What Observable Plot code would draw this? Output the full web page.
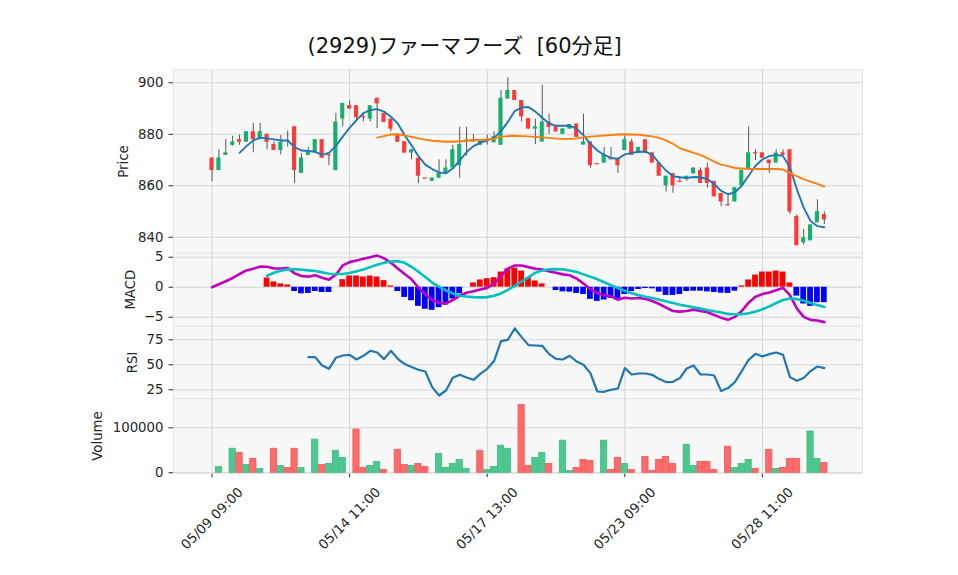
<!DOCTYPE html>
<html><head><meta charset="utf-8">
<script src="https://cdn.jsdelivr.net/npm/d3@7"></script>
<script src="https://cdn.jsdelivr.net/npm/@observablehq/plot@0.6"></script>
<style>
body{margin:0;background:#fff;}
#chart{position:relative;width:958px;height:575px;overflow:hidden;background:#fff;}
#chart svg{position:absolute;left:0;top:0;overflow:visible;background:transparent;}
</style></head><body><div id="chart"></div>
<script>
const titleText = "(2929)ファーマフーズ  [60分足]";
const tickIdx = [0, 20, 40, 60, 80];
const tickLabels = ["05/09 09:00", "05/14 11:00", "05/17 13:00", "05/23 09:00", "05/28 11:00"];

const opens = [870.7,865.9,871.8,875.7,877.9,876.9,881.0,877.9,880.0,876.0,
 873.7,877.6,882.9,864.8,871.8,872.8,877.9,872.0,865.9,885.9,
 891.1,891.1,886.8,885.9,894.0,888.1,885.9,880.0,877.1,872.7,
 870.7,863.0,861.7,862.9,864.8,866.9,867.8,876.9,877.9,875.7,
 877.3,876.7,875.7,893.7,897.0,893.1,886.1,882.0,877.0,884.8,
 882.9,880.0,882.0,884.0,875.8,877.0,868.6,868.8,870.5,870.5,
 873.7,877.0,872.8,877.9,872.8,868.8,860.0,864.8,861.7,862.6,
 864.6,866.0,866.9,861.7,857.0,852.6,853.7,860.0,866.0,872.8,
 872.8,870.0,868.8,872.8,874.0,848.0,837.8,838.6,845.6,848.8];
const highs = [871.0,874.0,877.9,879.2,879.7,881.0,884.2,884.2,880.0,877.0,
 879.5,881.2,882.9,872.4,874.8,877.9,877.9,872.2,888.1,892.0,
 893.0,891.1,888.1,891.1,894.0,888.1,885.9,880.0,877.1,874.0,
 870.7,863.0,863.0,870.1,870.1,875.7,882.7,882.7,879.9,877.9,
 879.7,881.0,897.0,902.0,897.0,893.1,886.1,885.9,899.0,887.8,
 882.9,882.1,883.8,884.0,887.8,877.0,868.6,874.9,874.9,870.5,
 879.6,878.0,874.9,877.9,872.8,868.8,863.7,864.8,863.7,863.7,
 866.9,866.9,868.8,861.7,857.0,857.0,859.3,866.0,882.9,874.0,
 872.8,870.0,874.0,874.0,874.0,848.6,843.0,844.8,854.5,849.9];
const lows = [861.6,865.9,871.8,875.4,875.7,876.9,872.8,877.9,874.0,873.7,
 872.0,875.0,860.9,864.8,871.8,872.8,870.7,867.8,865.9,882.9,
 889.8,884.8,884.8,884.8,882.2,884.6,880.9,876.9,872.7,870.1,
 860.9,863.0,861.7,862.9,864.8,866.9,862.9,871.5,877.0,875.7,
 875.8,876.7,875.7,893.7,893.1,884.8,882.0,876.0,877.0,880.0,
 880.9,880.0,882.0,878.8,875.8,866.8,868.6,868.8,870.5,864.8,
 873.7,871.8,872.8,872.7,868.8,863.7,857.6,857.1,861.7,861.7,
 864.6,860.9,859.0,855.7,851.9,852.2,853.7,860.0,866.0,869.8,
 870.7,864.8,868.8,871.8,848.9,836.7,837.0,838.6,845.6,844.9];
const closes = [865.9,870.8,872.8,877.0,876.9,881.0,877.9,881.0,876.9,873.7,
 876.9,877.6,865.9,870.8,873.1,877.9,870.7,872.0,884.8,892.0,
 889.8,886.5,886.8,891.1,891.8,884.6,882.0,876.9,872.7,874.0,
 863.7,863.0,863.0,864.8,866.9,874.0,876.0,877.8,877.0,877.9,
 877.9,879.1,894.0,897.0,893.1,886.8,882.0,882.9,884.8,882.7,
 880.9,882.1,883.8,878.8,877.0,867.8,868.6,872.0,870.5,867.8,
 877.9,871.8,874.9,872.7,868.8,863.7,863.7,860.0,861.7,863.7,
 866.9,860.9,860.9,855.7,853.7,852.6,859.3,866.0,872.8,872.8,
 870.7,868.6,872.7,871.8,849.8,836.7,839.8,844.8,849.9,846.7];

const ma5 = [null,null,null,null,
 872.8,875.4,877.6,878.7,878.4,878.0,877.6,877.6,875.0,873.7,
 873.5,873.2,872.0,872.8,875.4,879.1,882.5,885.5,888.2,889.4,
 889.8,888.8,886.8,884.2,879.6,875.7,871.5,868.2,866.5,865.2,
 864.8,866.8,869.8,873.1,875.4,876.7,877.6,878.6,881.2,884.8,
 889.0,890.4,890.6,888.8,886.4,884.2,883.3,883.3,883.3,882.2,
 879.6,876.3,873.7,872.0,870.8,870.5,872.2,872.8,873.1,873.3,
 872.0,868.8,865.9,863.7,863.3,863.0,863.4,863.3,862.6,860.7,
 858.0,856.7,857.4,860.0,863.9,867.8,870.2,871.5,872.0,871.5,
 867.2,858.7,851.5,846.3,844.3,843.9];
const ma25 = [null,null,null,null,null,null,null,null,null,null,null,null,
 null,null,null,null,null,null,null,null,null,null,null,null,
 878.7,879.3,879.9,880.0,879.6,879.0,878.4,877.9,877.5,877.3,
 877.1,877.1,877.3,877.5,877.8,877.8,878.0,878.3,879.0,879.3,
 879.4,879.3,879.2,879.0,878.8,878.6,878.3,878.2,878.2,878.4,
 878.8,879.1,879.3,879.5,879.7,879.9,880.0,879.9,879.8,879.5,
 879.2,878.6,877.6,876.3,874.6,873.7,872.8,872.0,870.7,869.4,
 868.2,867.6,866.9,866.7,866.5,866.5,866.5,866.5,866.5,866.3,
 865.0,863.7,862.6,861.6,860.7,859.7];

const macdLine = [0,0.49,0.99,1.54,2.2,2.8,3.08,3.46,3.41,3.13,
 3.13,3.19,2.31,1.87,1.76,1.98,1.59,1.26,2.09,3.63,
 4.18,4.45,4.73,5.0,5.27,4.84,4.07,3.13,2.2,1.32,
 -0.05,-1.21,-2.14,-2.64,-2.69,-2.14,-1.43,-0.93,-0.66,-0.38,
 -0.11,0.6,1.87,3.08,3.63,3.63,3.35,3.08,2.97,2.64,
 2.42,2.14,1.98,1.43,0.6,-0.33,-0.99,-1.32,-1.54,-2.09,
 -1.76,-1.87,-1.81,-1.98,-2.31,-2.8,-3.41,-3.96,-4.07,-3.96,
 -3.74,-3.96,-4.18,-4.62,-5.11,-5.44,-4.95,-3.96,-2.58,-1.59,
 -1.15,-0.88,-0.49,-0.11,-1.32,-3.52,-4.95,-5.44,-5.55,-5.82];
const signalLine = [null,null,null,null,null,null,null,null,
 1.92,2.42,2.75,2.97,3.02,2.91,2.8,2.69,2.47,2.25,
 2.2,2.2,2.36,2.64,2.97,3.35,3.74,4.07,4.29,4.34,
 4.07,3.41,2.58,1.7,0.77,0.05,-0.55,-1.04,-1.43,-1.54,
 -1.65,-1.7,-1.65,-1.43,-1.04,-0.44,0.22,0.95,1.65,2.42,
 2.8,2.97,3.02,2.97,2.8,2.53,2.14,1.76,1.32,0.82,
 0.33,-0.16,-0.6,-0.99,-1.32,-1.59,-1.81,-2.09,-2.36,-2.64,
 -2.91,-3.13,-3.35,-3.57,-3.79,-4.01,-4.23,-4.45,-4.51,-4.51,
 -4.34,-4.07,-3.68,-3.19,-2.64,-2.14,-1.87,-1.98,-2.25,-2.64,
 -2.97,-3.3];
const histValues = [null,null,null,null,null,null,null,null,
 1.54,0.88,0.55,0.38,-0.71,-1.1,-1.04,-0.71,-0.88,-0.88,
 0,1.26,1.87,1.87,1.7,1.87,1.7,1.1,0.22,-0.71,
 -1.7,-2.25,-3.19,-3.68,-3.85,-3.41,-2.97,-1.98,-1.1,0,
 0.71,1.21,1.43,1.59,2.53,3.08,3.19,2.69,1.59,1.04,
 0.55,0,-0.55,-0.77,-0.82,-1.04,-1.21,-2.03,-2.36,-2.14,
 -1.87,-1.98,-1.21,-0.71,-0.38,-0.22,-0.27,-0.82,-1.37,-1.37,
 -1.21,-0.71,-0.66,-0.66,-0.77,-0.88,-0.99,-1.04,-0.66,0.22,
 1.21,2.03,2.53,2.53,2.69,2.53,0.71,-1.48,-2.8,-3.19,
 -2.58,-2.58];

const rsiValues = [null,null,null,null,null,null,null,null,null,null,null,null,null,null,
 57.7,57.7,49.3,46.0,57.0,59.3,60.0,55.3,59.0,64.0,
 62.3,55.7,64.0,56.0,50.7,47.7,45.0,43.3,27.7,19.3,
 24.3,37.0,40.0,37.3,35.0,41.0,46.0,53.7,73.7,75.0,
 86.3,77.7,69.7,69.3,69.0,60.7,56.0,55.3,59.0,53.3,
 50.0,41.7,23.3,23.0,25.0,26.3,46.7,40.3,41.3,41.3,
 40.0,35.7,32.7,33.0,36.7,46.3,49.3,40.3,40.3,39.3,
 23.7,26.7,32.7,43.7,55.0,61.0,58.3,60.7,62.3,60.0,
 37.7,34.0,36.7,43.7,48.3,46.7];

const volumes = [0,12800,0,53400,44400,17300,30800,8300,0,53400,
 15000,10500,53400,10500,0,73700,17300,19500,48900,33100,
 0,96200,10500,15000,24100,6000,0,51100,17300,15000,
 19500,12800,0,42100,10500,19500,28600,8300,0,48900,
 6000,12800,60200,53400,0,150400,15000,33100,44400,19500,
 0,71400,3800,10500,28600,26300,0,71400,6000,33100,
 19500,6000,0,35300,3800,28600,35300,19500,0,62400,
 15000,24100,24100,6000,0,57900,10500,19500,28600,8300,
 0,51100,8300,10500,30800,30800,0,91700,30800,21800];
const volumeUp = [0,1,0,1,0,1,0,1,0,0, 1,0,0,1,0,1,0,1,1,1,
 0,0,0,1,1,0,0,0,0,1, 0,0,0,1,1,1,1,1,0,0,
 1,1,1,1,0,0,0,1,1,0, 0,1,1,0,0,0,0,1,0,0,
 1,0,0,0,0,0,0,0,0,1, 1,0,0,0,0,0,1,1,1,0,
 0,0,1,0,0,0,0,1,1,0];

// ---- build tables ----
const bars = opens.map((o, i) => ({i, open: o, high: highs[i], low: lows[i], close: closes[i],
  ma5: ma5[i], ma25: ma25[i], macd: macdLine[i], signal: signalLine[i], hist: histValues[i],
  rsi: rsiValues[i], vol: volumes[i], vup: volumeUp[i]}));

const UP = "#16b06c", DN = "#ff3838";
const VUP = "#4cc78f", VDN = "#ff6b6b";
const GRID = "#d4d4d4", BG = "#f8f8f8";
const W = 958, H = 575, ML = 173, MR = 96;
const xDom = [-5.6, 94.55];
const minus = d => d < 0 ? "\u2212" + Math.abs(d) : String(d);

function base(top, bottom, yOpts, marks, xAxis) {
  return Plot.plot({
    width: W, height: H,
    marginLeft: ML, marginRight: MR, marginTop: top, marginBottom: H - bottom,
    style: {fontFamily: "'DejaVu Sans', 'Noto Sans CJK JP', sans-serif", fontSize: "13.3px", color: "#262626", background: "transparent", overflow: "visible"},
    x: xAxis || {domain: xDom, axis: null},
    y: Object.assign({label: null, tickSize: 4.5, tickPadding: 5.5, tickFormat: minus}, yOpts),
    marks: [
      Plot.frame({fill: BG, stroke: "#e6e6e6"}),
      Plot.ruleX(tickIdx, {x: d => d, stroke: GRID, strokeWidth: 1}),
      Plot.ruleY(yOpts.ticks, {y: d => d, stroke: GRID, strokeWidth: 1}),
      ...marks
    ]
  });
}

function sideLabel(t, dx) {
  return Plot.text([t], {text: d => d, frameAnchor: "left", dx, rotate: -90, textAnchor: "middle", lineAnchor: "middle", fill: "#262626"});
}

const candles = bars;
const pricePlot = base(69.3, 252.7, {domain: [833.8, 905.05], ticks: [840, 860, 880, 900]}, [
  Plot.ruleX(candles, {x: "i", y1: "low", y2: "high", stroke: "#555", strokeWidth: 1}),
  Plot.rect(candles, {x1: d => d.i - 0.3, x2: d => d.i + 0.3, y1: "open", y2: "close", fill: d => d.close > d.open ? UP : DN}),
  Plot.ruleY(candles.filter(d => d.open === d.close), {y: "close", x1: d => d.i - 0.3, x2: d => d.i + 0.3, stroke: DN, strokeWidth: 1.3}),
  Plot.line(candles, {x: "i", y: "ma5", stroke: "#1f77b4", strokeWidth: 1.9}),
  Plot.line(candles, {x: "i", y: "ma25", stroke: "#ff7f0e", strokeWidth: 1.9}),
  sideLabel("Price", -50),
  Plot.text([titleText], {text: d => d, frameAnchor: "top-left", dx: 307 - ML, dy: -16.5, textAnchor: "start", lineAnchor: "bottom", fontSize: 21, fill: "#111"})
]);

const histBars = bars.filter(d => d.hist !== null && d.hist !== 0);
const macdPlot = base(252.7, 325.7, {domain: [-6.5, 5.67], ticks: [-5, 0, 5]}, [
  Plot.rect(histBars, {x1: d => d.i - 0.42, x2: d => d.i + 0.42, y1: () => 0, y2: "hist", fill: d => d.hist >= 0 ? "#ff0000" : "#0000ff"}),
  Plot.line(bars, {x: "i", y: "macd", stroke: "#bf00bf", strokeWidth: 2.6}),
  Plot.line(bars, {x: "i", y: "signal", stroke: "#00bfbf", strokeWidth: 2.6}),
  sideLabel("MACD", -42.5)
]);

const rsiPlot = base(325.7, 398.3, {domain: [16, 88.6], ticks: [25, 50, 75]}, [
  Plot.line(bars, {x: "i", y: "rsi", stroke: "#1f77b4", strokeWidth: 2.2}),
  sideLabel("RSI", -41)
]);

const volBars = bars.filter(d => d.vol > 0);
const volPlot = base(398.3, 472.7, {domain: [-889, 164444], ticks: [0, 100000], tickFormat: d => String(d)}, [
  Plot.rect(volBars, {x1: d => d.i - 0.45, x2: d => d.i + 0.45, y1: () => 0, y2: "vol",
    fill: d => d.vup ? VUP : VDN, stroke: d => d.vup ? "#3dbb80" : "#f25555", strokeWidth: 0.8}),
  sideLabel("Volume", -76),
  Plot.text(tickIdx, {x: d => d, text: (d, k) => tickLabels[k], frameAnchor: "bottom", dy: 45.5, rotate: -45, textAnchor: "middle", lineAnchor: "middle", fill: "#262626"})
], {domain: xDom, axis: "bottom", ticks: tickIdx, tickFormat: () => "", tickSize: 4.5, label: null});

const root = document.getElementById("chart");
[pricePlot, macdPlot, rsiPlot, volPlot].forEach(p => root.appendChild(p));
</script>
</body></html>
